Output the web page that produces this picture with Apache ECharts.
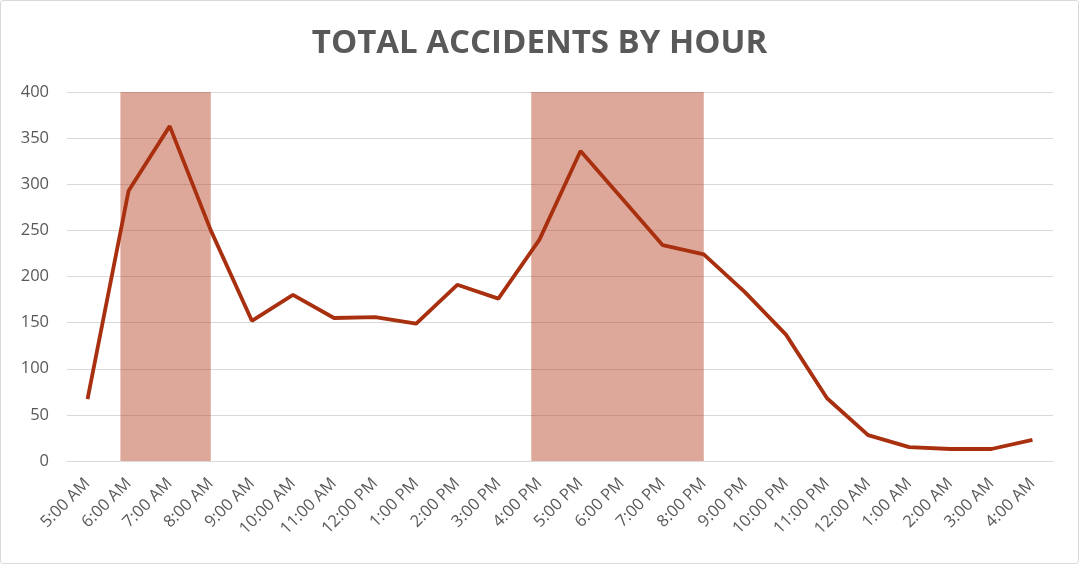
<!DOCTYPE html>
<html>
<head>
<meta charset="utf-8">
<script src="https://cdn.jsdelivr.net/npm/echarts@6/dist/echarts.min.js"></script>
<style>
  html, body { margin: 0; padding: 0; background: #fff; }
  #chart { width: 1077px; height: 562px; border: 1px solid #d9d9d9; border-radius: 3px; }
</style>
</head>
<body>
<div id="chart"></div>
<script>
// hours on the x axis
var hours = ["5:00 AM", "6:00 AM", "7:00 AM", "8:00 AM", "9:00 AM", "10:00 AM", "11:00 AM",
  "12:00 PM", "1:00 PM", "2:00 PM", "3:00 PM", "4:00 PM", "5:00 PM", "6:00 PM", "7:00 PM",
  "8:00 PM", "9:00 PM", "10:00 PM", "11:00 PM", "12:00 AM", "1:00 AM", "2:00 AM", "3:00 AM", "4:00 AM"];

// total accidents per hour
var accidents = [67, 293, 363, 250, 152, 180, 155, 156, 149, 191, 176, 240,
  336, 285, 234, 224, 183, 137, 68, 28, 15, 13, 13, 23];

// rush hour bands, in category index units
var bandStart = [0.8, 10.8];
var bandEnd = [3, 15];

var myChart = echarts.init(document.getElementById("chart"));

var bands = [];
bandStart.forEach(function (s, i) {
  bands.push([{ xAxis: s }, { xAxis: bandEnd[i] }]);
});

var option = {
  animation: false,
  title: {
    text: "TOTAL ACCIDENTS BY HOUR",
    left: "center",
    top: 21,
    textStyle: {
      fontFamily: "Open Sans",
      fontWeight: "bold",
      fontSize: 33,
      color: "#595959"
    }
  },
  grid: {
    left: 66,
    right: 25,
    top: 91,
    bottom: 102
  },
  xAxis: [
    {
      type: "category",
      data: hours,
      boundaryGap: true,
      axisLine: { lineStyle: { color: "#d9d9d9", width: 1 } },
      axisTick: { show: false },
      axisLabel: {
        interval: 0,
        rotate: 45,
        margin: 20,
        fontFamily: "Open Sans",
        fontSize: 16.5,
        color: "#595959"
      }
    },
    {
      // hidden helper axis for placing the shaded bands
      type: "value",
      min: -0.5,
      max: 23.5,
      show: false
    }
  ],
  yAxis: {
    type: "value",
    min: 0,
    max: 400,
    interval: 50,
    axisLine: { show: false },
    axisTick: { show: false },
    splitLine: { lineStyle: { color: "#d9d9d9", width: 1 } },
    axisLabel: {
      margin: 18,
      fontFamily: "Open Sans",
      fontSize: 16.5,
      color: "#595959"
    }
  },
  series: [
    {
      type: "line",
      xAxisIndex: 1,
      data: [],
      silent: true,
      markArea: {
        silent: true,
        itemStyle: { color: "rgba(180,62,32,0.45)" },
        data: bands
      }
    },
    {
      name: "Accidents",
      type: "line",
      z: 5,
      data: accidents,
      symbol: "none",
      lineStyle: { color: "#a9300f", width: 3.8 },
      itemStyle: { color: "#a9300f" }
    }
  ]
};

myChart.setOption(option, true);
</script>
</body>
</html>
